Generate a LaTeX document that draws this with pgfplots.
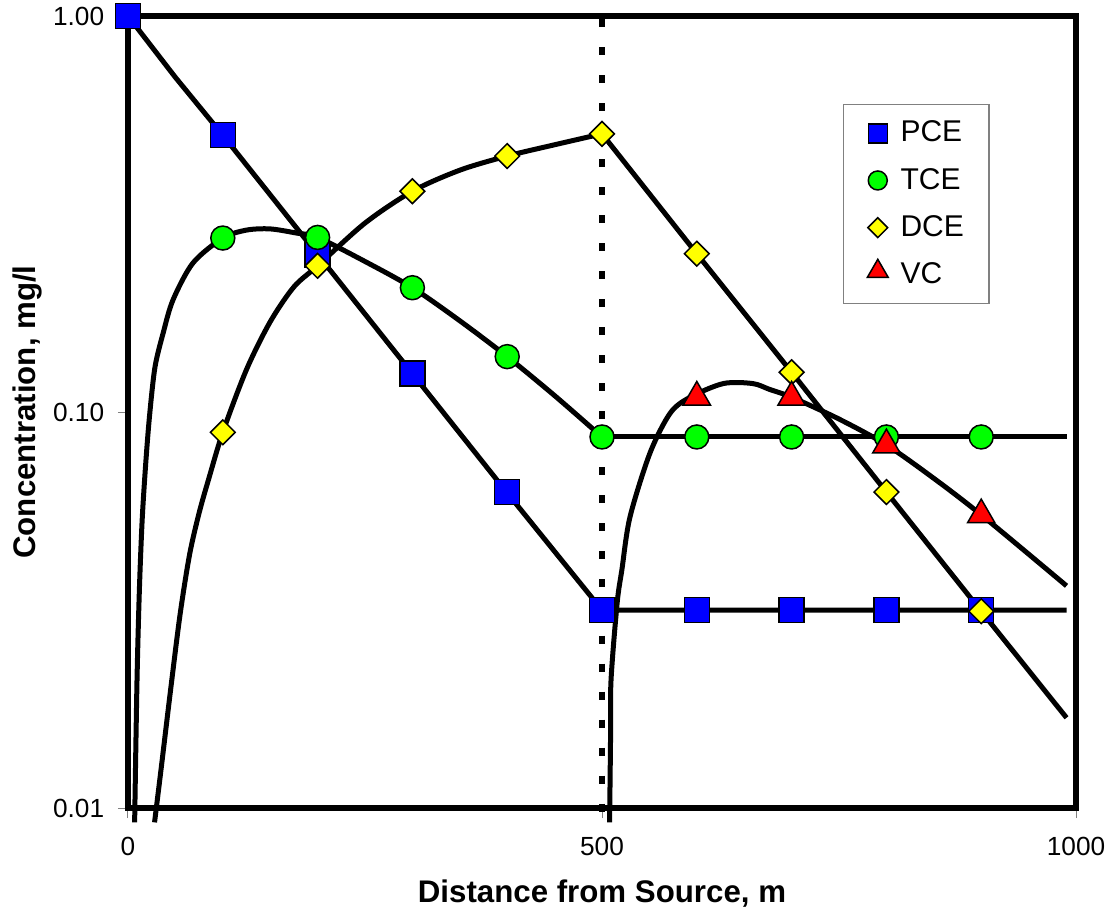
\documentclass[border=0pt]{standalone}
\usepackage{fontspec}
\setmainfont{Liberation Sans}
\usepackage{pgfplots}
\pgfplotsset{compat=1.18}

\definecolor{pceblue}{RGB}{0,0,255}
\definecolor{tcegreen}{RGB}{0,255,0}
\definecolor{dceyellow}{RGB}{255,255,0}
\definecolor{vcred}{RGB}{255,0,0}

\begin{document}
\begin{tikzpicture}
\begin{axis}[
  name=ax,
  scale only axis,
  width=379.2pt, height=316.8pt,
  ymode=log,
  xmin=0, xmax=1000, ymin=0.01, ymax=1,
  xtick={0,500,1000},
  xticklabels={0,500,1000},
  ytick={0.01,0.1,1},
  yticklabels={0.01,0.10,1.00},
  yminorticks=false,
  xtick pos=bottom, ytick pos=left,
  axis line style={line width=2.6pt, black},
  tick style={gray, thin},
  tick align=outside,
  major tick length=4pt,
  /pgf/number format/assume math mode=true,
  ticklabel style={font=\fontsize{10.5}{12}\selectfont},
  xticklabel style={yshift=-4pt},
  yticklabel style={xshift=-2pt},
  xlabel={Distance from Source, m},
  ylabel={Concentration, mg/l},
  xlabel style={at={(axis description cs:0.5,-0.1086)}, anchor=center, font=\fontsize{12.5}{14}\selectfont\bfseries},
  ylabel style={at={(axis description cs:-0.1055,0.5)}, anchor=center, font=\fontsize{12.5}{14}\selectfont\bfseries},
  clip=false,
  legend style={at={(axis description cs:0.754,0.889)}, anchor=north west,
    draw=gray, line width=0.6pt, font=\fontsize{12}{13}\selectfont,
    row sep=5pt, inner xsep=8pt, inner ysep=4.5pt},
  legend cell align=left,
]

% dashed marker line at 500 m
\addplot[forget plot, black, line width=2.2pt, dash pattern=on 3.2pt off 8pt]
  coordinates {(500,0.98) (500,0.0092)};

% model curves
\addplot[forget plot, black, line width=2pt] coordinates {
(0,1) (50,0.70) (100,0.5) (200,0.25) (300,0.125) (400,0.0625) (500,0.0316) (990,0.0316)};

\addplot[forget plot, black, line width=2pt, smooth] coordinates {
(7,0.0092) (9.5,0.021) (12,0.0355) (15,0.0537) (19,0.0759) (23,0.0994)
(28.5,0.130) (37,0.158) (47.5,0.192) (68.6,0.238) (100,0.275) (125,0.288)
(150,0.29) (178,0.283) (200,0.276) (250,0.240) (300,0.206) (350,0.170)
(400,0.138) (450,0.110) (500,0.0865)};
\addplot[forget plot, black, line width=2pt] coordinates {(500,0.0865) (990,0.0865)};

\addplot[forget plot, black, line width=2pt, smooth] coordinates {
(28,0.0092) (35,0.0126) (45,0.01995) (55,0.0309) (65,0.0437) (75,0.0556) (85,0.0676)
(100,0.0889) (125,0.128) (150,0.169) (175,0.207) (200,0.234) (250,0.300)
(300,0.361) (350,0.408) (400,0.443) (450,0.473) (500,0.504)};
\addplot[forget plot, black, line width=2pt] coordinates {
(500,0.504) (600,0.251) (700,0.126) (800,0.0628) (900,0.0314) (990,0.0169)};

\addplot[forget plot, black, line width=2pt, smooth] coordinates {
(508,0.0092) (509,0.015) (509.5,0.021) (516,0.033) (521,0.040) (529.5,0.0543)
(550.6,0.0788) (572,0.0994) (593,0.109) (628,0.118) (659,0.118) (677,0.114)
(700,0.109) (750,0.096) (800,0.0826) (850,0.068) (900,0.055) (990,0.0364)};

% measured points
\addplot[only marks, mark=square*, mark size=5pt, mark options={fill=pceblue, draw=black, line width=0.6pt},
  legend image code/.code={\path[draw=none] (0cm,0cm) -- (0.45cm,0cm);
    \draw[mark=square*, mark size=3.8pt, fill=pceblue, draw=black, line width=0.6pt] plot coordinates {(0.2cm,0cm)};}]
  coordinates {(0,1) (100,0.5) (200,0.25) (300,0.125) (400,0.0628) (500,0.0316)
  (600,0.0316) (700,0.0316) (800,0.0316) (900,0.0316)};
\addlegendentry{PCE}

\addplot[only marks, mark=*, mark size=4.8pt, mark options={fill=tcegreen, draw=black, line width=0.6pt},
  legend image code/.code={\path[draw=none] (0cm,0cm) -- (0.45cm,0cm);
    \draw[mark=*, mark size=3.8pt, fill=tcegreen, draw=black, line width=0.6pt] plot coordinates {(0.2cm,0cm)};}]
  coordinates {(100,0.275) (200,0.276) (300,0.206) (400,0.138) (500,0.0865)
  (600,0.0865) (700,0.0865) (800,0.0865) (900,0.0865)};
\addlegendentry{TCE}

\addplot[only marks, mark=square*, mark size=3.5pt, mark options={rotate=45, fill=dceyellow, draw=black, line width=0.6pt},
  legend image code/.code={\path[draw=none] (0cm,0cm) -- (0.45cm,0cm);
    \draw[mark=square*, mark size=2.8pt, mark options={rotate=45}, fill=dceyellow, draw=black, line width=0.6pt] plot coordinates {(0.2cm,0cm)};}]
  coordinates {(100,0.0889) (200,0.234) (300,0.361) (400,0.443) (500,0.504)
  (600,0.251) (700,0.126) (800,0.0628) (900,0.0314)};
\addlegendentry{DCE}

\addplot[only marks, mark=triangle*, mark size=6.3pt, mark options={fill=vcred, draw=black, line width=0.6pt},
  legend image code/.code={\path[draw=none] (0cm,0cm) -- (0.45cm,0cm);
    \draw[mark=triangle*, mark size=4.8pt, fill=vcred, draw=black, line width=0.6pt] plot coordinates {(0.2cm,0.05cm)};}]
  coordinates {(600,0.109) (700,0.109) (800,0.0826) (900,0.055)};
\addlegendentry{VC}

\end{axis}
\pgfresetboundingbox
\path ([shift={(-51.2pt,-42pt)}]ax.south west) rectangle ([shift={(12.4pt,6.4pt)}]ax.north east);
\end{tikzpicture}
\end{document}
